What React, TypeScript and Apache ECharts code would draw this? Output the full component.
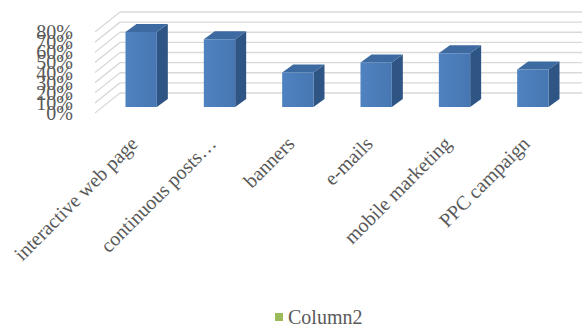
import React, { useEffect, useRef } from "react";
import * as echarts from "echarts";

const CATEGORIES = [
  "interactive web page",
  "continuous posts…",
  "banners",
  "e-mails",
  "mobile marketing",
  "PPC campaign",
];
const VALUES = [74, 67, 34, 44, 53, 37];
const Y_TICKS = [0, 10, 20, 30, 40, 50, 60, 70, 80];
const SERIES_NAME = "Column2";

// 3D projection constants (pixels)
const WALL_DX = 25;
const WALL_DY = -20;
const BAR_FRONT = [7, -6];
const BAR_BACK = [18, -14];

export default function App() {
  const ref = useRef<HTMLDivElement>(null);
  useEffect(() => {
    if (!ref.current) return;
    const chart = echarts.init(ref.current, null, { renderer: "svg" });
    const font = "Times New Roman, Liberation Serif, serif";
    chart.setOption({
      animation: false,
      backgroundColor: "#ffffff",
      textStyle: { fontFamily: font },
      grid: { left: 95, right: 17, top: 32, bottom: 214, containLabel: false },
      legend: {
        left: 275,
        top: 307,
        padding: 0,
        itemWidth: 8,
        itemHeight: 8,
        icon: "rect",
        textStyle: { fontFamily: font, fontSize: 20, lineHeight: 20, color: "#595959" },
        data: [{ name: SERIES_NAME, icon: "rect", itemStyle: { color: "#9BBB59" } }],
      },
      xAxis: {
        type: "category",
        data: CATEGORIES,
        boundaryGap: true,
        axisLine: { show: false },
        axisTick: { show: false },
        splitLine: { show: false },
        axisLabel: {
          interval: 0,
          rotate: 45,
          margin: 27,
          hideOverlap: false,
          fontFamily: font,
          fontSize: 20,
          color: "#595959",
        },
      },
      yAxis: {
        type: "value",
        min: 0,
        max: 80,
        interval: 10,
        axisLine: { show: false },
        axisTick: { show: false },
        splitLine: { show: false },
        axisLabel: { show: false },
      },
      series: [
        {
          type: "custom",
          name: "walls",
          silent: true,
          z: 1,
          clip: false,
          data: Y_TICKS.map((v) => [0, v]),
          renderItem: (params: any, api: any) => {
            const cs = params.coordSys;
            const v = api.value(1);
            const y = api.coord([0, v])[1];
            const style = { stroke: "#d9d9d9", lineWidth: 1.3 };
            return {
              type: "group",
              children: [
                {
                  type: "line",
                  shape: { x1: cs.x, y1: y, x2: cs.x + WALL_DX, y2: y + WALL_DY },
                  style,
                },
                {
                  type: "line",
                  shape: {
                    x1: cs.x + WALL_DX,
                    y1: y + WALL_DY,
                    x2: cs.x + cs.width + WALL_DX,
                    y2: y + WALL_DY,
                  },
                  style,
                },
                {
                  type: "text",
                  x: cs.x - 22,
                  y: y,
                  style: {
                    text: v + "%",
                    align: "right",
                    verticalAlign: "middle",
                    fontFamily: font,
                    fontSize: 20,
                    fill: "#595959",
                  },
                },
              ],
            };
          },
        },
        {
          type: "custom",
          name: SERIES_NAME,
          z: 2,
          data: VALUES.map((v, i) => [i, v]),
          renderItem: (params: any, api: any) => {
            const idx = api.value(0);
            const base = api.coord([idx, 0]);
            const top = api.coord([idx, api.value(1)]);
            const slot = api.size([1, 0])[0];
            const w = slot / 2.5;
            const xl = base[0] - w / 2;
            const xr = base[0] + w / 2;
            const f = BAR_FRONT;
            const b = BAR_BACK;
            return {
              type: "group",
              children: [
                {
                  type: "polygon",
                  shape: {
                    points: [
                      [xr + f[0], top[1] + f[1]],
                      [xr + b[0], top[1] + b[1]],
                      [xr + b[0], base[1] + b[1]],
                      [xr + f[0], base[1] + f[1]],
                    ],
                  },
                  style: { fill: "#2f5584" },
                },
                {
                  type: "polygon",
                  shape: {
                    points: [
                      [xl + f[0], top[1] + f[1]],
                      [xr + f[0], top[1] + f[1]],
                      [xr + b[0], top[1] + b[1]],
                      [xl + b[0], top[1] + b[1]],
                    ],
                  },
                  style: { fill: "#3d6aa0" },
                },
                {
                  type: "rect",
                  shape: {
                    x: xl + f[0],
                    y: top[1] + f[1],
                    width: w,
                    height: base[1] - top[1],
                  },
                  style: {
                    fill: new echarts.graphic.LinearGradient(0, 0, 1, 0, [
                      { offset: 0, color: "#4f82c0" },
                      { offset: 1, color: "#4677b3" },
                    ]),
                  },
                },
              ],
            };
          },
        },
      ],
    });
    return () => chart.dispose();
  }, []);
  return (
    <div
      ref={ref}
      style={{ position: "fixed", left: 0, top: 0, width: 582, height: 327 }}
    />
  );
}
